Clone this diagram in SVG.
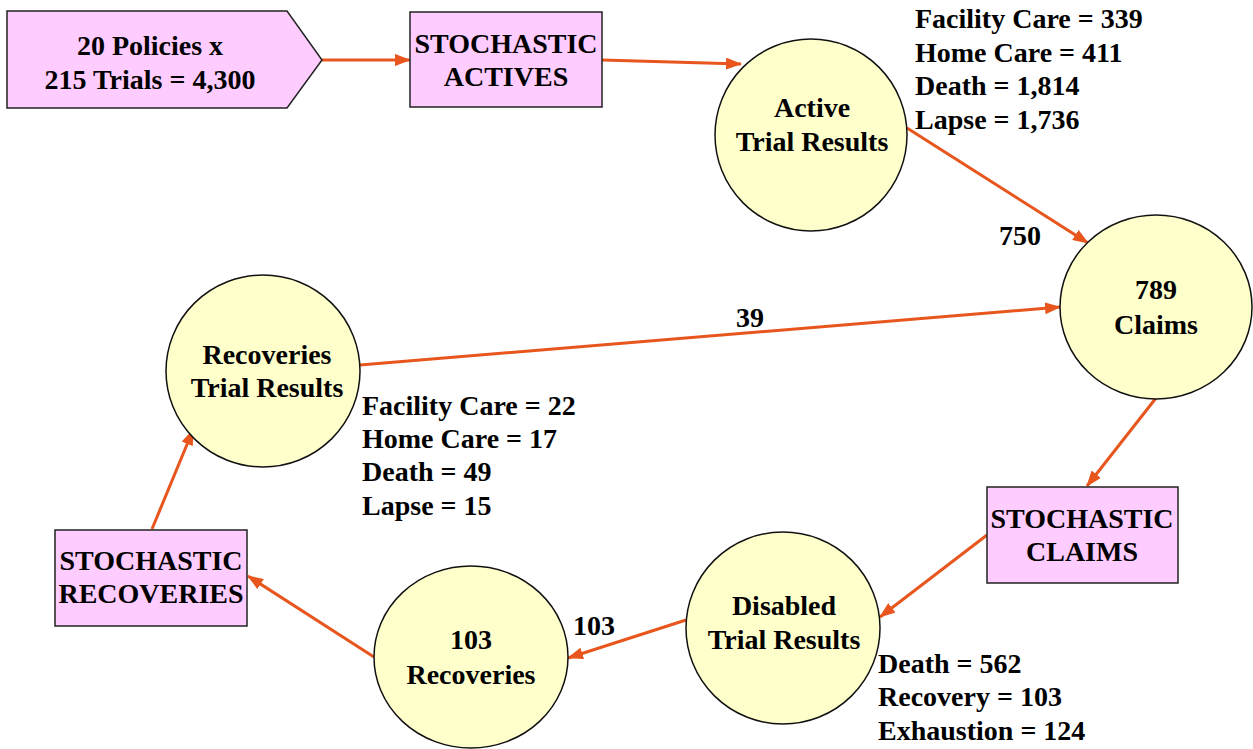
<svg xmlns="http://www.w3.org/2000/svg" width="1253" height="749" viewBox="0 0 1253 749">
<defs>
<style>
.box{fill:#FFCCFF;stroke:#222;stroke-width:1.5}
.circ{fill:#FFFFCC;stroke:#111;stroke-width:1.5}
.t{font-family:"Liberation Serif","Times New Roman",serif;font-weight:bold;font-size:28px;fill:#000}
.m{text-anchor:middle}
.e{stroke:#E8561E;stroke-width:3;fill:none;marker-end:url(#ah)}
</style>
<marker id="ah" viewBox="0 0 16 12" refX="15" refY="6" markerWidth="16" markerHeight="12" markerUnits="userSpaceOnUse" orient="auto">
<path d="M0,0 L16,6 L0,12 z" fill="#E8561E"/>
</marker>
</defs>
<rect width="1253" height="749" fill="#fff"/>
<g id="connectors">
<line class="e" x1="322" y1="60" x2="410" y2="60"/>
<line class="e" x1="602" y1="60" x2="741" y2="64"/>
<line class="e" x1="907" y1="128" x2="1088" y2="243"/>
<line class="e" x1="1156" y1="398" x2="1087" y2="486"/>
<line class="e" x1="987" y1="535" x2="880" y2="617"/>
<line class="e" x1="686" y1="620" x2="568" y2="658"/>
<line class="e" x1="374" y1="657" x2="248" y2="576"/>
<line class="e" x1="152" y1="529" x2="193" y2="430"/>
<line class="e" x1="360" y1="365" x2="1060" y2="307"/>
<text class="t m" x="1020" y="245">750</text>
<text class="t m" x="750" y="327">39</text>
<text class="t m" x="594" y="635">103</text>
</g>
<g id="policies">
<polygon class="box" points="7,11 287,11 322,60 287,108 7,108"/>
<text class="t m" x="150" y="55">20 Policies x</text>
<text class="t m" x="150" y="89">215 Trials = 4,300</text>
</g>
<g id="stochastic-actives">
<rect class="box" x="410" y="12" width="192" height="95"/>
<text class="t m" x="506" y="53">STOCHASTIC</text>
<text class="t m" x="506" y="86">ACTIVES</text>
</g>
<g id="active-trial-results">
<circle class="circ" cx="811" cy="135" r="96"/>
<text class="t m" x="812" y="117">Active</text>
<text class="t m" x="812" y="151">Trial Results</text>
</g>
<g id="active-results-list">
<text class="t" x="915" y="28">Facility Care = 339</text>
<text class="t" x="915" y="62">Home Care = 411</text>
<text class="t" x="915" y="95">Death = 1,814</text>
<text class="t" x="915" y="129">Lapse = 1,736</text>
</g>
<g id="claims">
<ellipse class="circ" cx="1156" cy="307" rx="96" ry="92"/>
<text class="t m" x="1156" y="299">789</text>
<text class="t m" x="1156" y="334">Claims</text>
</g>
<g id="stochastic-claims">
<rect class="box" x="987" y="487" width="191" height="96"/>
<text class="t m" x="1082" y="528">STOCHASTIC</text>
<text class="t m" x="1082" y="561">CLAIMS</text>
</g>
<g id="disabled-trial-results">
<ellipse class="circ" cx="783" cy="628" rx="97" ry="96"/>
<text class="t m" x="784" y="615">Disabled</text>
<text class="t m" x="784" y="649">Trial Results</text>
</g>
<g id="disabled-results-list">
<text class="t" x="878" y="673">Death = 562</text>
<text class="t" x="878" y="706">Recovery = 103</text>
<text class="t" x="878" y="740">Exhaustion = 124</text>
</g>
<g id="recoveries">
<ellipse class="circ" cx="471" cy="657" rx="97" ry="91"/>
<text class="t m" x="471" y="649">103</text>
<text class="t m" x="471" y="684">Recoveries</text>
</g>
<g id="stochastic-recoveries">
<rect class="box" x="55" y="530" width="192" height="96"/>
<text class="t m" x="151" y="570">STOCHASTIC</text>
<text class="t m" x="151" y="603">RECOVERIES</text>
</g>
<g id="recoveries-trial-results">
<ellipse class="circ" cx="263" cy="371" rx="97" ry="96"/>
<text class="t m" x="267" y="364">Recoveries</text>
<text class="t m" x="267" y="397">Trial Results</text>
</g>
<g id="recoveries-results-list">
<text class="t" x="362" y="415">Facility Care = 22</text>
<text class="t" x="362" y="448">Home Care = 17</text>
<text class="t" x="362" y="481">Death = 49</text>
<text class="t" x="362" y="515">Lapse = 15</text>
</g>
</svg>
